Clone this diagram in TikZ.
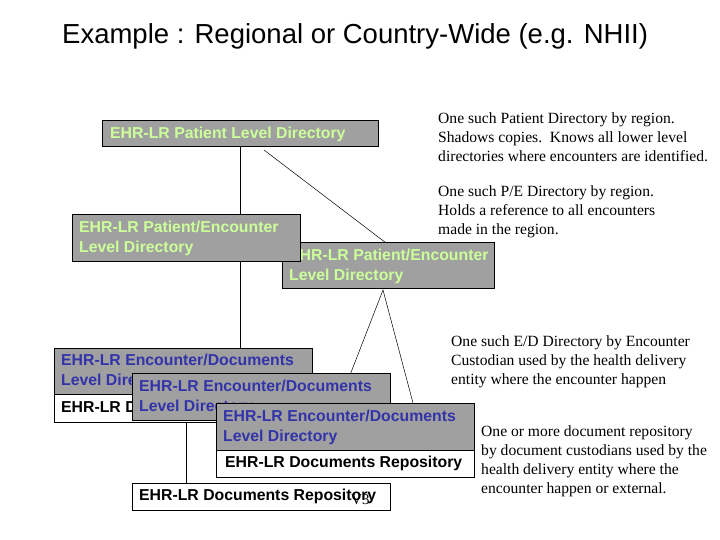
\documentclass[tikz,border=0pt]{standalone}
\usepackage{fontspec}
\setmainfont{Liberation Serif}
\newfontfamily\arialf{Liberation Sans}
\definecolor{boxgray}{RGB}{160,160,160}
\definecolor{lgreen}{RGB}{204,255,153}
\definecolor{dblue}{RGB}{51,51,170}
\begin{document}
\begin{tikzpicture}[x=1pt,y=-1pt,
  gbox/.style={draw=black,fill=boxgray,inner sep=0pt,anchor=north west},
  wbox/.style={draw=black,fill=white,inner sep=0pt,anchor=north west},
  lbl/.style={anchor=north west,inner sep=0pt,font=\arialf\bfseries\fontsize{15.8}{19.5}\selectfont,align=left},
  note/.style={anchor=north west,inner sep=0pt,font=\fontsize{15.6}{19.3}\selectfont,align=left},
  ln/.style={draw=black,line width=0.5pt}]
\useasboundingbox (0,0) rectangle (720,540);
\node[anchor=west,inner sep=0pt,font=\arialf\fontsize{27.5}{30}\selectfont] (title) at (62,36) {Example : Regional or Country-Wide (e.g. NHII)};
% connectors
\coordinate (pa) at (240,146); \coordinate (pb) at (240,348);
\draw[ln] (pa) -- (pb);
\coordinate (d1) at (264,150); \coordinate (d2) at (390,246);
\draw[ln] (d1) -- (d2);
\coordinate (t) at (383,290); \coordinate (t1) at (350,375); \coordinate (t2) at (413,403);
\draw[ln] (t1) -- (t) -- (t2);
\coordinate (r1) at (186,420); \coordinate (r2) at (186,483);
\draw[ln] (r1) -- (r2);
% patient
\node[gbox,minimum width=276pt,minimum height=26pt] (pl) at (102,120) {};
\node[lbl,text=lgreen] (plt) at (110,127) {EHR-LR Patient Level Directory};
% PE boxes
\node[gbox,minimum width=212pt,minimum height=46pt] (pe2) at (282,242) {};
\node[lbl,text=lgreen] (pe2t) at (289,249) {EHR-LR Patient/Encounter\\Level Directory};
\node[gbox,minimum width=228pt,minimum height=47pt] (pe1) at (72,214) {};
\node[lbl,text=lgreen] (pe1t) at (79,221) {EHR-LR Patient/Encounter\\Level Directory};
% ED box 1
\node[gbox,minimum width=258pt,minimum height=46pt] (e1) at (54,348) {};
\node[lbl,text=dblue] (e1t) at (61,354) {EHR-LR Encounter/Documents\\Level Directory};
\node[wbox,minimum width=258pt,minimum height=28pt] (w1) at (54,394) {};
\node[lbl] (w1t) at (61,401) {EHR-LR Documents Repository};
% ED box 2
\node[gbox,minimum width=258pt,minimum height=47pt] (e2) at (132,373) {};
\node[lbl,text=dblue] (e2t) at (139,380) {EHR-LR Encounter/Documents\\Level Directory};
% repos 4
\node[wbox,minimum width=258pt,minimum height=27pt] (w4) at (132,483) {};
\node[lbl] (w4t) at (139,489) {EHR-LR Documents Repository};
\node[anchor=north west,inner sep=0pt,font=\fontsize{15}{16}\selectfont] (v3) at (351,494) {V3};
% ED box 3
\node[gbox,minimum width=258pt,minimum height=47pt] (e3) at (216,403) {};
\node[lbl,text=dblue] (e3t) at (223,410) {EHR-LR Encounter/Documents\\Level Directory};
\node[wbox,minimum width=258pt,minimum height=27pt] (w3) at (216,450) {};
\node[lbl] (w3t) at (225,456) {EHR-LR Documents Repository};
% notes
\node[note] (n1) at (438,112) {One such Patient Directory by region.\\Shadows copies.\ \ Knows all lower level\\directories where encounters are identified.};
\node[note] (n2) at (438,185) {One such P/E Directory by region.\\Holds a reference to all encounters\\made in the region.};
\node[note] (n3) at (451,335) {One such E/D Directory by Encounter\\Custodian used by the health delivery\\entity where the encounter happen};
\node[note] (n4) at (481,425) {One or more document repository\\by document custodians used by the\\health delivery entity where the\\encounter happen or external.};
\end{tikzpicture}
\end{document}
